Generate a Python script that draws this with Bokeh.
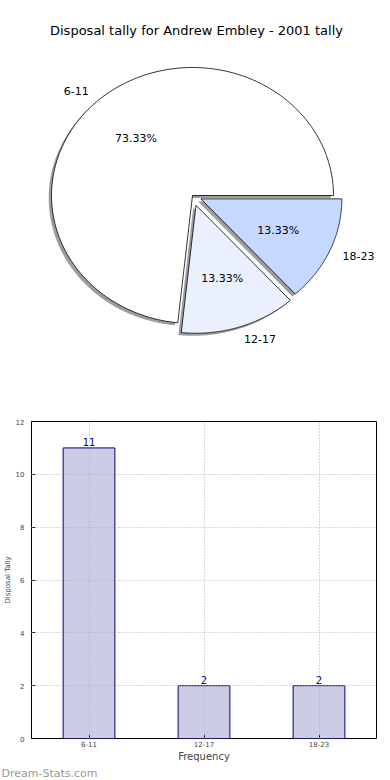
import numpy as np
from bokeh.plotting import figure
from bokeh.models import Range1d, Label, FactorRange, SingleIntervalTicker, Title
from bokeh.layouts import column
from bokeh.embed import file_html
from bokeh.resources import INLINE
from bokeh.core.properties import value

# ---- data ----
categories = ["6-11", "12-17", "18-23"]
tally = [11, 2, 2]
pie_colors = ["#ffffff", "#eaf0fe", "#c5d9fe"]
explode = [0.0, 0.08, 0.065]
title_text = "Disposal tally for Andrew Embley - 2001 tally"
bar_ylabel = "Disposal Tally"
bar_xlabel = "Frequency"
watermark = "Dream-Stats.com"
y_max = 12
y_step = 2

FONT = "DejaVu Sans"
PAGE_X = 8              # page margin
FL = 22                 # frame left border (shared by both plots)
FW = 345                # frame width  (shared by both plots)
FR = 390 - 2 * PAGE_X - FL - FW
PIE_H = 396
RX, RY = 141.0, 128.0   # pixels per radius unit (pie is elliptical)
CX = 191.0 - PAGE_X - FL   # pie centre within the frame (px from left)
CY = 195.0                 # pie centre (px from top)

# ---- pie ----
pie = figure(frame_width=FW, frame_height=PIE_H, output_backend="svg", toolbar_location=None,
             x_axis_location=None, y_axis_location=None,
             x_range=Range1d(-CX / RX, (FW - CX) / RX),
             y_range=Range1d(-(PIE_H - CY) / RY, CY / RY),
             min_border=0, min_border_left=FL, min_border_right=FR,
             outline_line_color=None)
pie.grid.visible = False

fracs = np.array(tally, dtype=float) / sum(tally)
bounds = np.concatenate([[0.0], np.cumsum(fracs)]) * 2 * np.pi
wx, wy, shx, shy = [], [], [], []
lx, ly, la, px_, py_, ptxt = [], [], [], [], [], []
SH = 0.02
for i in range(len(tally)):
    t1, t2 = bounds[i], bounds[i + 1]
    mid = 0.5 * (t1 + t2)
    ox, oy = explode[i] * np.cos(mid), explode[i] * np.sin(mid)
    th = np.linspace(t1, t2, 160)
    xs = np.concatenate([[ox], ox + np.cos(th), [ox]])
    ys = np.concatenate([[oy], oy + np.sin(th), [oy]])
    wx.append(xs.tolist()); wy.append(ys.tolist())
    shx.append((xs - SH).tolist()); shy.append((ys - SH).tolist())
    lx.append(ox + 1.1 * np.cos(mid)); ly.append(oy + 1.1 * np.sin(mid))
    la.append("left" if np.cos(mid) > 0 else "right")
    px_.append(ox + 0.6 * np.cos(mid)); py_.append(oy + 0.6 * np.sin(mid))
    ptxt.append("%.2f%%" % (fracs[i] * 100))

pie.patches(shx, shy, fill_color="#4d4d4d", fill_alpha=0.55, line_color=None)
pie.patches(wx, wy, fill_color=pie_colors, line_color="black", line_width=0.8)
for xs_, ys_, txt, al in ((lx, ly, categories, la), (px_, py_, ptxt, ["center"] * len(ptxt))):
    for xx, yy, tt, aa in zip(xs_, ys_, txt, al):
        pie.add_layout(Label(x=xx, y=yy, text=tt, text_align=aa, text_baseline="middle",
                             text_font=FONT, text_font_size="11px", text_color="black"))
pie.add_layout(Label(x=195 - PAGE_X - FL, y=PIE_H - 30, x_units="screen", y_units="screen",
                     text=title_text, text_align="center", text_baseline="middle",
                     text_font=FONT, text_font_size="13px", text_color="black"))

# ---- bar ----
bar = figure(frame_width=FW, frame_height=317, output_backend="svg", toolbar_location=None,
             x_range=FactorRange(factors=categories), y_range=Range1d(0, y_max),
             min_border_left=FL, min_border_right=FR, min_border_top=25,
             min_border_bottom=0,
             outline_line_color="black", outline_line_width=1, outline_line_alpha=1)
bar.vbar(x=categories, top=tally, width=0.45, fill_color="#ccccE5",
         line_color="#000080", line_width=1)
bar.text(x=categories, y=tally, text=[str(v) for v in tally], text_align="center",
         text_baseline="bottom", y_offset=-2, text_color="#000080",
         text_font=value(FONT), text_font_size="10px")
bar.yaxis.ticker = SingleIntervalTicker(interval=y_step)
for ax in (bar.xaxis[0], bar.yaxis[0]):
    ax.axis_line_color = None
    ax.major_tick_in = 4
    ax.major_tick_out = 0
    ax.minor_tick_line_color = None
    ax.major_label_text_font = FONT
    ax.major_label_text_font_size = "7px"
    ax.major_label_standoff = 3
    ax.axis_label_text_font = FONT
    ax.axis_label_text_font_style = "normal"
bar.xaxis.major_label_standoff = 2
bar.xaxis.axis_label = bar_xlabel
bar.xaxis.axis_label_text_font_size = "10px"
bar.xaxis.axis_label_standoff = 1
bar.yaxis.axis_label = bar_ylabel
bar.yaxis.axis_label_text_font_size = "7px"
bar.yaxis.axis_label_standoff = 1
for g in (bar.xgrid[0], bar.ygrid[0]):
    g.grid_line_color = "#b0b0b0"
    g.grid_line_dash = "1 2"
    g.level = "overlay"
bar.add_layout(Title(text=watermark, align="left", offset=-FL - PAGE_X, text_font=FONT,
                     text_font_size="11px", text_color="#999999", text_font_style="normal",
                     standoff=0), "below")

layout = column(pie, bar, spacing=0)
open("out.html", "w").write(file_html(layout, INLINE))
